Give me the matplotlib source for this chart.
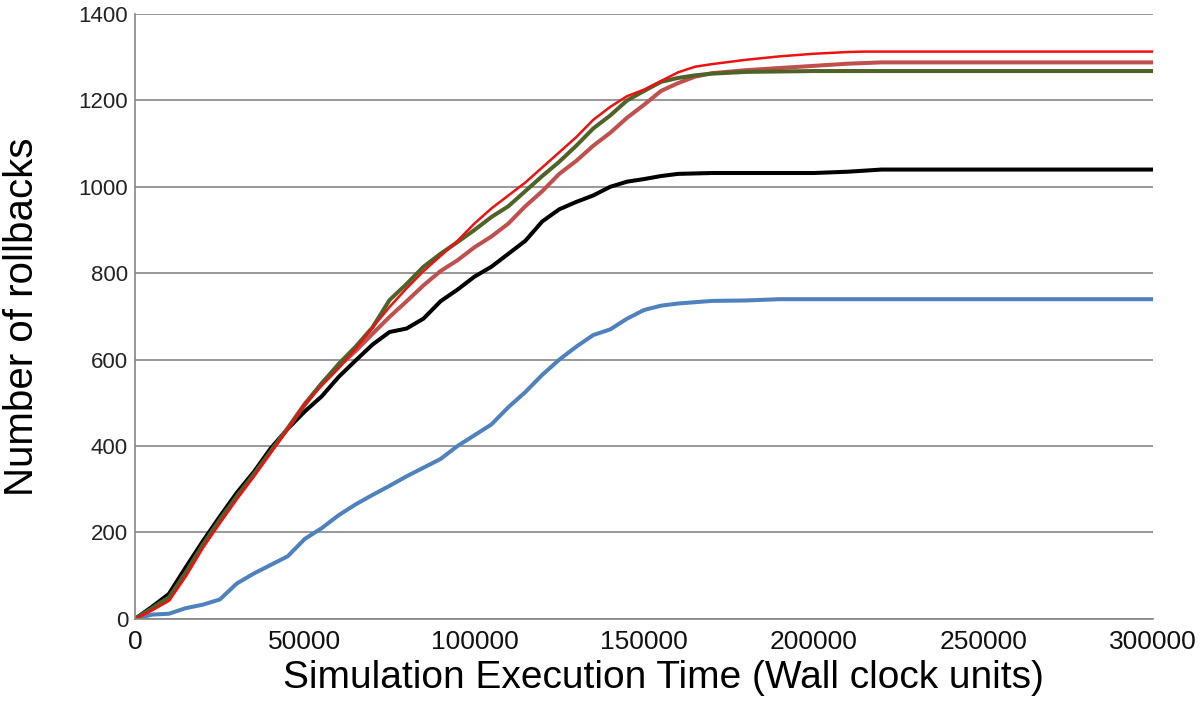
import matplotlib
matplotlib.use("Agg")
import matplotlib.pyplot as plt

plt.rcParams['font.family'] = ['Liberation Sans', 'DejaVu Sans']

# x positions (wall clock units) and series values
x_black = [0, 5000, 10000, 15000, 20000, 25000, 30000, 35000, 40000, 45000, 50000, 55000, 60000, 65000,
           70000, 75000, 80000, 85000, 90000, 95000, 100000, 105000, 110000, 115000, 120000, 125000,
           130000, 135000, 140000, 145000, 150000, 155000, 160000, 170000, 200000, 210000, 220000, 300000]
y_black = [0, 28, 58, 120, 180, 237, 292, 340, 395, 440, 480, 515, 560, 598,
           635, 664, 672, 695, 735, 762, 792, 815, 845, 875, 920, 948,
           965, 980, 1000, 1012, 1018, 1025, 1030, 1032, 1032, 1035, 1040, 1040]

x_red = [0, 5000, 10000, 15000, 20000, 25000, 30000, 35000, 40000, 45000, 50000, 55000, 60000, 65000,
         70000, 75000, 80000, 85000, 90000, 95000, 100000, 105000, 110000, 115000, 120000, 125000,
         130000, 135000, 140000, 145000, 150000, 155000, 160000, 165000, 170000, 180000, 190000,
         200000, 210000, 215000, 300000]
y_red = [0, 20, 42, 100, 165, 222, 278, 330, 385, 440, 497, 540, 580, 625,
         675, 722, 765, 805, 840, 875, 915, 950, 980, 1010, 1045, 1080,
         1115, 1155, 1185, 1210, 1225, 1245, 1265, 1278, 1284, 1294, 1302,
         1308, 1312, 1313, 1313]

x_rose = [0, 5000, 10000, 15000, 20000, 25000, 30000, 35000, 40000, 45000, 50000, 55000, 60000, 65000,
          70000, 75000, 80000, 85000, 90000, 95000, 100000, 105000, 110000, 115000, 120000, 125000,
          130000, 135000, 140000, 145000, 150000, 155000, 160000, 165000, 170000, 180000, 190000,
          200000, 210000, 220000, 300000]
y_rose = [0, 22, 45, 102, 168, 225, 280, 332, 387, 442, 498, 545, 585, 620,
          660, 699, 735, 772, 805, 830, 860, 885, 915, 955, 990, 1030,
          1060, 1095, 1125, 1160, 1190, 1222, 1240, 1255, 1263, 1270, 1275,
          1280, 1285, 1288, 1288]

x_green = [0, 5000, 10000, 15000, 20000, 25000, 30000, 35000, 40000, 45000, 50000, 55000, 60000, 65000,
           70000, 75000, 80000, 85000, 90000, 95000, 100000, 105000, 110000, 115000, 120000, 125000,
           130000, 135000, 140000, 145000, 150000, 155000, 160000, 165000, 170000, 180000, 200000, 300000]
y_green = [0, 25, 50, 108, 172, 230, 284, 335, 388, 440, 495, 545, 590, 630,
           675, 738, 775, 815, 845, 872, 900, 930, 955, 990, 1025, 1058,
           1095, 1135, 1165, 1200, 1222, 1243, 1252, 1258, 1262, 1266, 1268, 1268]

x_blue = [0, 5000, 10000, 15000, 20000, 25000, 30000, 35000, 40000, 45000, 50000, 55000, 60000, 65000,
          70000, 75000, 80000, 85000, 90000, 95000, 100000, 105000, 110000, 115000, 120000, 125000,
          130000, 135000, 140000, 145000, 150000, 155000, 160000, 165000, 170000, 180000, 190000, 300000]
y_blue = [0, 10, 12, 25, 33, 45, 82, 105, 125, 145, 185, 210, 240, 265,
          287, 308, 330, 350, 370, 400, 425, 450, 490, 525, 565, 600,
          630, 657, 670, 695, 715, 725, 730, 733, 736, 737, 740, 740]

x_ticks = [0, 50000, 100000, 150000, 200000, 250000, 300000]
y_ticks = [0, 200, 400, 600, 800, 1000, 1200, 1400]

fig = plt.figure(figsize=(12, 7.18), dpi=100)
ax = fig.add_axes([0.1125, 0.138, 0.8485, 0.8425])

ax.plot(x_blue, y_blue, color='#4f81bd', lw=2.9, solid_joinstyle='round')
ax.plot(x_black, y_black, color='#000000', lw=2.9, solid_joinstyle='round')
ax.plot(x_rose, y_rose, color='#c0504d', lw=2.9, solid_joinstyle='round')
ax.plot(x_green, y_green, color='#4f6228', lw=2.9, solid_joinstyle='round')
ax.plot(x_red, y_red, color='#ee1111', lw=1.8, solid_joinstyle='round')

ax.set_xlim(0, 300000)
ax.set_ylim(0, 1400)
ax.set_xticks(x_ticks)
ax.set_yticks(y_ticks)
ax.set_xticklabels([str(v) for v in x_ticks])
ax.set_yticklabels([str(v) for v in y_ticks])
ax.tick_params(axis='x', length=0, labelsize=19, colors='#111111', pad=8)
ax.tick_params(axis='y', length=0, labelsize=16, colors='#222222', pad=5)
ax.yaxis.grid(True, color='#868686', lw=1.2)
ax.set_axisbelow(True)
for s in ['top', 'right']:
    ax.spines[s].set_visible(False)
for s in ['left', 'bottom']:
    ax.spines[s].set_color('#868686')
    ax.spines[s].set_linewidth(1.2)

ax.set_xlabel('Simulation Execution Time (Wall clock units)', fontsize=28)
ax.set_ylabel('Number of rollbacks', fontsize=29)
ax.xaxis.set_label_coords(0.519, -0.068)
ax.yaxis.set_label_coords(-0.092, 0.5)

fig.savefig('out.png', dpi=100, facecolor='white')
